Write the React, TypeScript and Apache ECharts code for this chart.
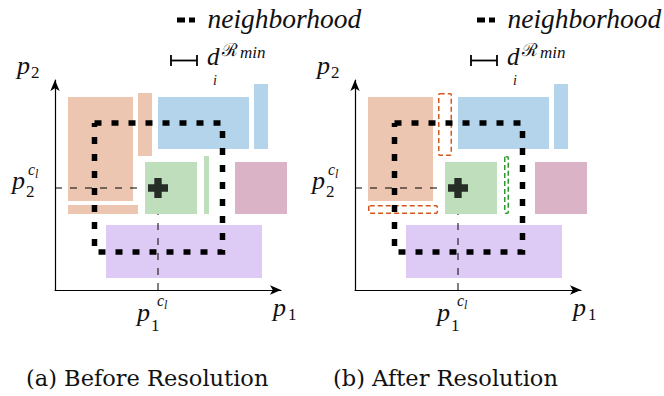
import React, { useEffect, useRef } from "react";
import * as echarts from "echarts";

// ---- axes extent (data units) ----
const AXIS_X_MAX = 226;
const AXIS_Y_MAX = 210;

// ---- rectangles (data units: x0, x1, y0, y1) ----
const rectNames = ["orangeBig", "orangeStrip", "orangeThin", "blueBig", "blueThin", "green", "greenThin", "pink", "purple"];
const rectGroup = ["orange", "orange", "orange", "blue", "blue", "green", "green", "pink", "purple"];
const rectX0 = [13, 13, 83, 103, 199, 90, 149, 180, 51];
const rectX1 = [78, 83, 97, 194, 213, 142, 154, 232, 207];
const rectY0 = [89, 76, 134, 141, 141, 76, 76, 76, 12];
const rectY1 = [193, 85, 197, 193, 206, 128, 134, 128, 65];

// fragments that are removed (drawn dashed) after resolution
const resolvedRects = ["orangeStrip", "orangeThin", "greenThin"];

// ---- neighborhood polygon ----
const neighborhoodX = [39.5, 167.5, 167.5, 39.5, 39.5];
const neighborhoodY = [167, 167, 38, 38, 167];

// ---- centroid ----
const centroidX = 103;
const centroidY = 102;

// ---- texts ----
const panelCaptions = ["(a) Before Resolution", "(b) After Resolution"];
const legendLabel = "neighborhood";

const groupFill: Record<string, string> = {
  orange: "#ECC6B0",
  blue: "#B3D4EA",
  green: "#BFDFBC",
  pink: "#DAB3C6",
  purple: "#DDCBF6",
};
const groupStroke: Record<string, string> = {
  orange: "#D2561E",
  green: "#2E9A2E",
};

const PANEL_OFFSET = 300;
const MATH = "Liberation Serif";
const CAPTION = "DejaVu Serif";

function txt(text: string, x: number, baseline: number, size: number, italic: boolean, family: string) {
  return {
    type: "text",
    x,
    y: baseline - 0.32 * size,
    silent: true,
    style: {
      text,
      fill: "#111",
      fontSize: size,
      fontFamily: family,
      fontStyle: italic ? "italic" : "normal",
      align: "left",
      verticalAlign: "middle",
    },
  };
}

function panelGraphics(p: number) {
  const o = p * PANEL_OFFSET;
  const m = (t: string, x: number, b: number, s: number) => txt(t, x + o, b, s, true, MATH);
  const r = (t: string, x: number, b: number, s: number) => txt(t, x + o, b, s, false, MATH);
  const els: any[] = [];
  // legend: neighborhood
  els.push({
    type: "line",
    silent: true,
    shape: { x1: 177 + o, y1: 20, x2: 195 + o, y2: 20 },
    style: { stroke: "#000", lineWidth: 5, lineDash: [8, 4] },
  });
  els.push(m(legendLabel, 207.5, 27, 27.5));
  // legend: d_i^{R_min}
  els.push({ type: "line", silent: true, shape: { x1: 171 + o, y1: 60.5, x2: 197 + o, y2: 60.5 }, style: { stroke: "#000", lineWidth: 1.8 } });
  els.push({ type: "line", silent: true, shape: { x1: 171 + o, y1: 55, x2: 171 + o, y2: 66 }, style: { stroke: "#000", lineWidth: 1.8 } });
  els.push({ type: "line", silent: true, shape: { x1: 197 + o, y1: 55, x2: 197 + o, y2: 66 }, style: { stroke: "#000", lineWidth: 1.8 } });
  els.push(m("d", 207, 64, 25));
  els.push(m("i", 213, 85, 14));
  els.push(txt("\u211B", 222 + o, 55, 18, false, "DejaVu Serif"));
  els.push(m("min", 240, 58, 17));
  // axis labels
  els.push(m("p", 17, 74, 26));
  els.push(r("2", 31, 78, 17));
  els.push(m("p", 12, 189, 26));
  els.push(r("2", 26, 197, 17));
  els.push(m("c", 28, 175, 16));
  els.push(m("l", 35, 178, 12));
  els.push(m("p", 137, 321, 26));
  els.push(r("1", 151, 331, 17));
  els.push(m("c", 157, 306, 16));
  els.push(m("l", 164, 309, 12));
  els.push(m("p", 273, 316, 26));
  els.push(r("1", 288, 320, 17));
  // caption
  els.push(txt(panelCaptions[p], p === 0 ? 26 : 33 + o, 385, 22.5, false, CAPTION));
  return els;
}

const PLUS = "path://M6,0H13V6H19V13H13V19H6V13H0V6H6Z";

export default function App() {
  const ref = useRef<HTMLDivElement>(null);
  useEffect(() => {
    if (!ref.current) return;
    const chart = echarts.init(ref.current, undefined, { renderer: "svg" });

    const axisLine = {
      show: true,
      symbol: ["none", "arrow"],
      symbolSize: [7, 11],
      lineStyle: { color: "#000", width: 1.2 },
    };
    const xAxes = [0, 1].map((p) => ({
      type: "value", gridIndex: p, min: 0, max: AXIS_X_MAX, axisLine,
      axisTick: { show: false }, axisLabel: { show: false }, splitLine: { show: false },
    }));
    const yAxes = [0, 1].map((p) => ({
      type: "value", gridIndex: p, min: 0, max: AXIS_Y_MAX, axisLine,
      axisTick: { show: false }, axisLabel: { show: false }, splitLine: { show: false },
    }));

    const greenIdx = rectNames.indexOf("green");
    const series: any[] = [];
    [0, 1].forEach((p) => {
      series.push({
        type: "custom", xAxisIndex: p, yAxisIndex: p, silent: true,
        data: rectX0.map((_, i) => [rectX0[i], rectX1[i], rectY0[i], rectY1[i]]),
        encode: { x: [0, 1], y: [2, 3] },
        renderItem: (params: any, api: any) => {
          const i = params.dataIndex;
          const tl = api.coord([rectX0[i], rectY1[i]]);
          const br = api.coord([rectX1[i], rectY0[i]]);
          const g = rectGroup[i];
          const resolved = p === 1 && resolvedRects.includes(rectNames[i]);
          if (resolved) {
            return {
              type: "rect",
              shape: { x: tl[0] + 0.75, y: tl[1] + 0.75, width: br[0] - tl[0] - 1.5, height: br[1] - tl[1] - 1.5, r: 1 },
              style: { fill: "none", stroke: groupStroke[g], lineWidth: 1.5, lineDash: [5, 3] },
            };
          }
          return {
            type: "rect",
            shape: { x: tl[0], y: tl[1], width: br[0] - tl[0], height: br[1] - tl[1] },
            style: { fill: groupFill[g] },
          };
        },
      });
      series.push({
        type: "line", xAxisIndex: p, yAxisIndex: p, silent: true, showSymbol: false,
        data: [[centroidX, 0], [centroidX, rectY0[greenIdx]]],
        lineStyle: { color: "#000", width: 1, type: [7, 8] },
      });
      series.push({
        type: "line", xAxisIndex: p, yAxisIndex: p, silent: true, showSymbol: false,
        data: [[0, centroidY], [rectX0[greenIdx], centroidY]],
        lineStyle: { color: "#000", width: 1, type: [7, 8] },
      });
      series.push({
        type: "line", xAxisIndex: p, yAxisIndex: p, silent: true, showSymbol: false,
        data: neighborhoodX.map((x, i) => [x, neighborhoodY[i]]),
        lineStyle: { color: "#000", width: 5.5, type: [7, 10], cap: "butt", join: "miter" },
      });
      series.push({
        type: "scatter", xAxisIndex: p, yAxisIndex: p, silent: true,
        symbol: PLUS, symbolSize: 20, itemStyle: { color: "#000" },
        data: [[centroidX, centroidY]], z: 5,
      });
    });

    chart.setOption({
      animation: false,
      backgroundColor: "#fff",
      grid: [
        { left: 55, top: 80, width: AXIS_X_MAX, height: AXIS_Y_MAX },
        { left: 55 + PANEL_OFFSET, top: 80, width: AXIS_X_MAX, height: AXIS_Y_MAX },
      ],
      xAxis: xAxes,
      yAxis: yAxes,
      series,
      graphic: { elements: [...panelGraphics(0), ...panelGraphics(1)] },
    });
    return () => chart.dispose();
  }, []);
  return <div ref={ref} style={{ width: 664, height: 396, position: "fixed", left: 0, top: 0 }} />;
}
